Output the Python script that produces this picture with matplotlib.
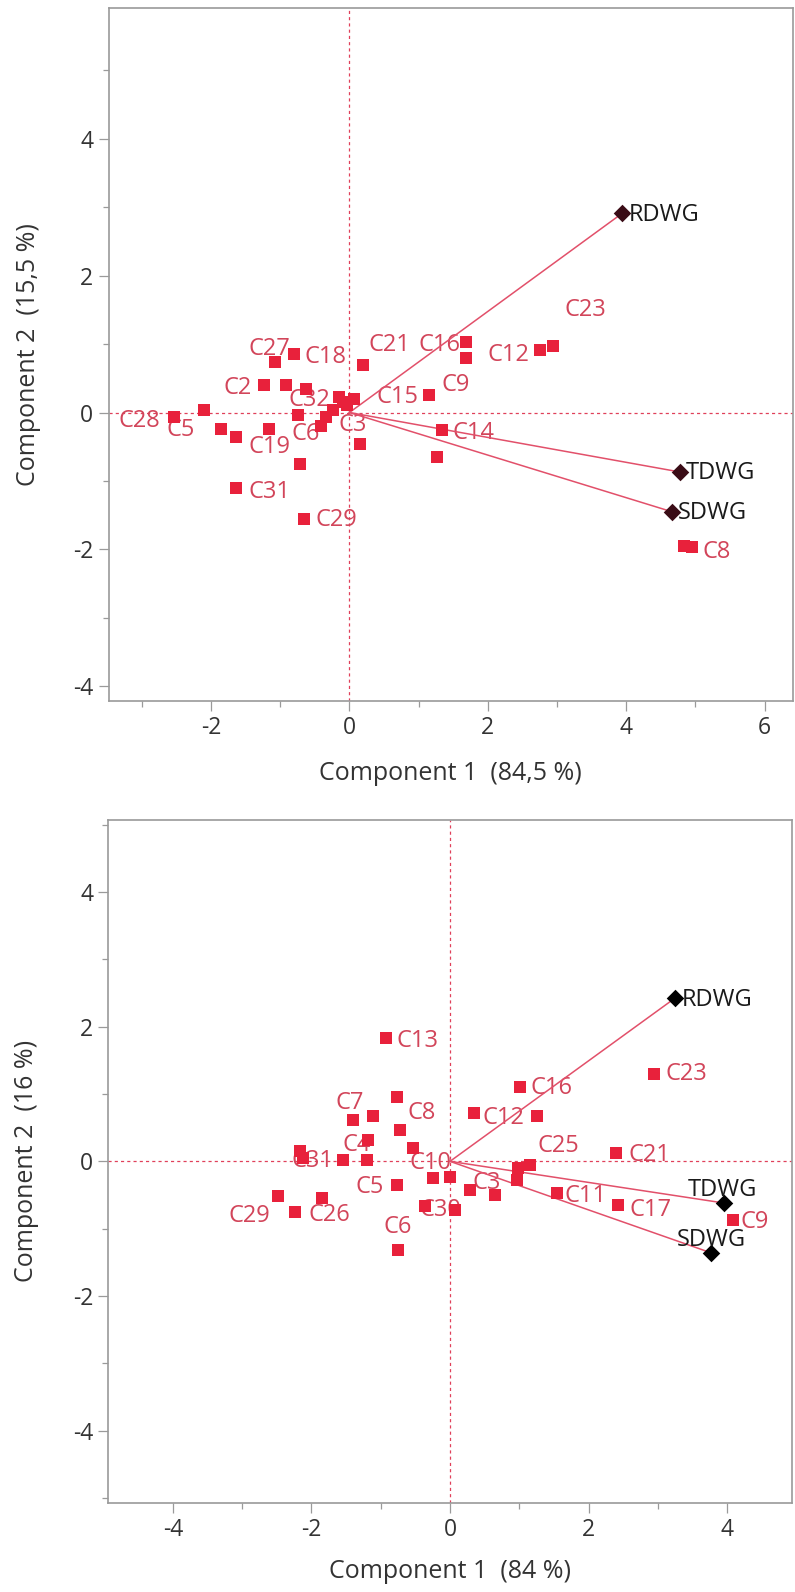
import matplotlib
matplotlib.use("Agg")
import matplotlib.pyplot as plt
from matplotlib.ticker import MultipleLocator

plt.rcParams['font.family'] = ['Open Sans', 'DejaVu Sans']
plt.rcParams['axes.unicode_minus'] = False

# ---------------- data: top biplot ----------------
top_labels = ["C27", "C18", "C2", "", "C32", "", "C15", "", "C3", "C6", "", "C28", "C5", "",
              "C19", "", "C31", "C29", "", "C21", "", "C9", "C16", "", "C12", "C23", "C14", "",
              "C8", "", "", ""]
top_x = [-1.08, -0.80, -1.23, -0.92, -0.63, -0.15, 0.07, -0.24, -0.03, -0.75, -0.41, -2.53, -2.10, -1.86,
         -1.64, -1.16, -1.64, -0.65, -0.72, 0.19, 0.16, 1.15, 1.68, 1.68, 2.76, 2.94, 1.34, 1.27,
         4.95, 4.83, -0.09, -0.34]
top_y = [0.74, 0.86, 0.40, 0.40, 0.35, 0.23, 0.20, 0.03, 0.11, -0.04, -0.19, -0.07, 0.03, -0.24,
         -0.36, -0.24, -1.11, -1.55, -0.75, 0.69, -0.46, 0.25, 1.03, 0.79, 0.91, 0.97, -0.26, -0.65,
         -1.96, -1.95, 0.16, -0.07]
top_load_names = ["RDWG", "TDWG", "SDWG"]
top_load_x = [3.94, 4.78, 4.66]
top_load_y = [2.91, -0.87, -1.45]

# ---------------- data: bottom biplot ----------------
bot_labels = ["C8", "", "C7", "", "C4", "", "", "C31", "", "", "C10", "", "C5", "C3", "",
              "C29", "C26", "", "C30", "", "C6", "C13", "C23", "C16", "C12", "",
              "C25", "", "", "C21", "C11", "C17", "C9"]
bot_x = [-0.77, -1.11, -1.40, -0.72, -1.18, -0.53, -2.16, -2.12, -1.54, -1.20, -0.24, 0.00, -0.77, 0.29, 0.65,
         -2.48, -2.24, -1.85, -0.36, 0.07, -0.75, -0.92, 2.95, 1.01, 0.34, 1.25,
         1.15, 0.98, 0.96, 2.40, 1.54, 2.43, 4.08]
bot_y = [0.96, 0.67, 0.62, 0.47, 0.32, 0.20, 0.15, 0.05, 0.02, 0.02, -0.25, -0.23, -0.35, -0.42, -0.50,
         -0.52, -0.75, -0.55, -0.67, -0.72, -1.32, 1.83, 1.29, 1.11, 0.72, 0.67,
         -0.05, -0.10, -0.27, 0.12, -0.47, -0.65, -0.87]
bot_load_names = ["RDWG", "TDWG", "SDWG"]
bot_load_x = [3.24, 3.96, 3.77]
bot_load_y = [2.42, -0.62, -1.36]

# ---------------- layout / style (offsets in points) ----------------
top_offsets = {"C27": (-3.7, 9.6), "C18": (22.7, -2.4), "C2": (-19, -2.4), "C32": (2.4, -8.4),
               "C21": (19, 14.3), "C16": (-19, -2.4), "C12": (-22.8, -3.7), "C23": (23.3, 25.7),
               "C15": (31, 1), "C9": (19, 7.2), "C3": (3.6, -14.4), "C6": (6, -13.2),
               "C28": (-25, -2.4), "C5": (-16.8, -14.4), "C19": (24, -7.2), "C14": (22.8, -2.2),
               "C31": (24, -2.4), "C29": (22.8, -1.2), "C8": (18, -3.6)}
bot_offsets = {"C8": (18, -11.9), "C7": (-2.4, 12), "C4": (-8.4, -3.6), "C31": (6.5, -2.4),
               "C10": (-2.4, 10.8), "C5": (-19.2, -1.2), "C3": (12, 4.8), "C29": (-20.5, -14.4),
               "C26": (25, -2.4), "C30": (10.8, -2.4), "C6": (0, 16.8), "C13": (22.8, -2.4),
               "C23": (22.8, 0), "C16": (22.8, -1.2), "C12": (21.6, -3.6), "C25": (20.4, 13.2),
               "C21": (24, -1.2), "C11": (20.4, -2.4), "C17": (22.8, -3.6), "C9": (15.6, -1.2)}
top_load_off = {"RDWG": (5, -1, 'left'), "TDWG": (4, -1, 'left'), "SDWG": (4, -1, 'left')}
bot_load_off = {"RDWG": (5, -1, 'left'), "TDWG": (-1.2, 9.5, 'center'), "SDWG": (0, 9.5, 'center')}

SQ = '#e8213b'
LAB = '#d2455a'
LINE = '#e2506a'
GRID = '#e0405a'
FRAME = '#9a9a9a'
TXT = '#333333'
FS_LAB = 17
FS_TICK = 16.5
FS_AX = 18

W, H = 795, 1592
fig = plt.figure(figsize=(W / 100, H / 100), dpi=100)


def make_axes(l, r, t, b):
    return fig.add_axes([l / W, 1 - b / H, (r - l) / W, (b - t) / H])


def draw(ax, xs, ys, labels, offs, lnames, lx, ly, loffs, xlim, ylim, dark, xlabel, ylabel):
    ax.set_xlim(*xlim)
    ax.set_ylim(*ylim)
    ax.axhline(0, color=GRID, lw=0.9, ls=(0, (2.5, 2.5)), zorder=1)
    ax.axvline(0, color=GRID, lw=0.9, ls=(0, (2.5, 2.5)), zorder=1)
    for n, a, b in zip(lnames, lx, ly):
        ax.plot([0, a], [0, b], color=LINE, lw=1.1, zorder=2.5)
    ax.scatter(xs, ys, marker='s', s=78, color=SQ, linewidths=0, zorder=3)
    for lab, a, b in zip(labels, xs, ys):
        if lab:
            dx, dy = offs[lab]
            ax.annotate(lab, (a, b), xytext=(dx, dy), textcoords='offset points',
                        ha='center', va='center', fontsize=FS_LAB, color=LAB, zorder=2)
    ax.scatter(lx, ly, marker='D', s=80, color=dark, linewidths=0, zorder=4)
    for n, a, b in zip(lnames, lx, ly):
        dx, dy, ha = loffs[n]
        ax.annotate(n, (a, b), xytext=(dx, dy), textcoords='offset points',
                    ha=ha, va='center', fontsize=FS_LAB, color='#1a1a1a', zorder=5)
    ax.xaxis.set_major_locator(MultipleLocator(2))
    ax.xaxis.set_minor_locator(MultipleLocator(1))
    ax.yaxis.set_major_locator(MultipleLocator(2))
    ax.yaxis.set_minor_locator(MultipleLocator(1))
    ax.tick_params(which='major', length=7, width=0.9, color=FRAME, labelsize=FS_TICK,
                   labelcolor=TXT, pad=4)
    ax.tick_params(which='minor', length=4, width=0.9, color=FRAME)
    for s in ax.spines.values():
        s.set_color(FRAME)
        s.set_linewidth(1.2)
    ax.set_xlabel(xlabel, fontsize=FS_AX, color=TXT, va='center')
    ax.set_ylabel(ylabel, fontsize=FS_AX, color=TXT, va='center', ha='center')


ax1 = make_axes(108.6, 793, 8.1, 700.6)
draw(ax1, top_x, top_y, top_labels, top_offsets, top_load_names, top_load_x, top_load_y,
     top_load_off, (-3.48, 6.41), (-4.21, 5.91), '#3a0c16',
     "Component 1  (84,5 %)", "Component 2  (15,5 %)")
ax1.xaxis.set_label_coords(0.5, -0.1054)
ax1.yaxis.set_label_coords(-0.117, 0.5)

ax2 = make_axes(108.3, 791.7, 820, 1502.7)
draw(ax2, bot_x, bot_y, bot_labels, bot_offsets, bot_load_names, bot_load_x, bot_load_y,
     bot_load_off, (-4.93, 4.93), (-5.07, 5.07), '#000000',
     "Component 1  (84 %)", "Component 2  (16 %)")
ax2.xaxis.set_label_coords(0.5, -0.101)
ax2.yaxis.set_label_coords(-0.119, 0.5)

fig.savefig("out.png", dpi=100)
